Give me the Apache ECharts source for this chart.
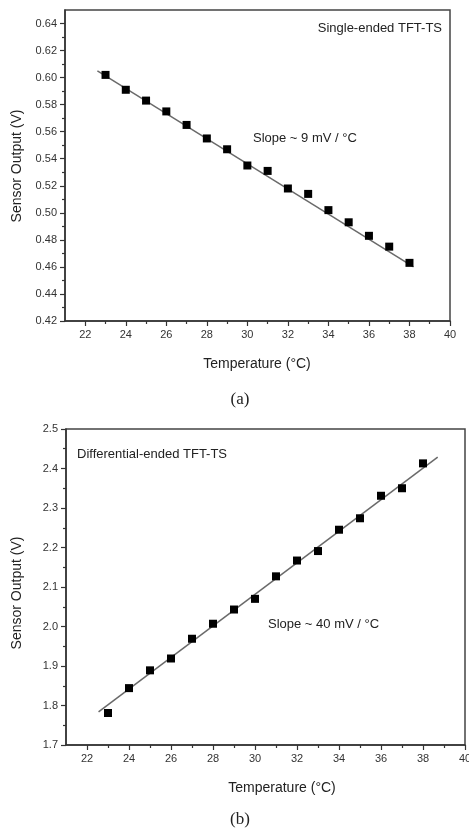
<!DOCTYPE html>
<html>
<head>
<meta charset="utf-8">
<title>TFT-TS sensor output vs temperature</title>
<script src="https://cdn.jsdelivr.net/npm/echarts@6.0.0/dist/echarts.min.js"></script>
<style>
    html, body { margin: 0; padding: 0; background: #fff; }
    #main { width: 469px; height: 832px; }
</style>
</head>
<body>
<div id="main"></div>
<script>
// measured points (temperature in °C, output in V)
var temps = [23, 24, 25, 26, 27, 28, 29, 30, 31, 32, 33, 34, 35, 36, 37, 38];
var singleOut = [0.602, 0.591, 0.583, 0.575, 0.565, 0.555, 0.547, 0.535, 0.531, 0.518, 0.514, 0.502, 0.493, 0.483, 0.475, 0.463];
var diffOut = [1.781, 1.844, 1.889, 1.919, 1.969, 2.007, 2.043, 2.070, 2.127, 2.167, 2.191, 2.245, 2.274, 2.331, 2.350, 2.413];

// end points of the fitted lines
var singleFit = [[22.6, 0.605], [38.2, 0.460]];
var diffFit = [[22.55, 1.784], [38.7, 2.429]];

// tick positions
var xTicks = [22, 24, 26, 28, 30, 32, 34, 36, 38, 40];
var xMinor = [23, 25, 27, 29, 31, 33, 35, 37, 39];
var yTicksA = [0.42, 0.44, 0.46, 0.48, 0.50, 0.52, 0.54, 0.56, 0.58, 0.60, 0.62, 0.64];
var yMinorA = [0.43, 0.45, 0.47, 0.49, 0.51, 0.53, 0.55, 0.57, 0.59, 0.61, 0.63];
var yTicksB = [1.7, 1.8, 1.9, 2.0, 2.1, 2.2, 2.3, 2.4, 2.5];
var yMinorB = [1.75, 1.85, 1.95, 2.05, 2.15, 2.25, 2.35, 2.45];

var FONT = "'Liberation Sans', Arial, sans-serif";
var INK = '#333';

function pairs(xs, ys) {
    var out = [];
    for (var i = 0; i < xs.length; i++) {
        out.push([xs[i], ys[i]]);
    }
    return out;
}

// main axis: line, long ticks, labels
function mainAxis(grid, min, max, ticks, digits) {
    return {
        gridIndex: grid, type: 'value', min: min, max: max,
        axisLine: { show: true, onZero: false, lineStyle: { color: INK, width: 1.5 } },
        axisTick: { show: true, customValues: ticks, length: 5, lineStyle: { color: INK, width: 1.2 } },
        axisLabel: {
            customValues: ticks, fontSize: 11, color: INK, fontFamily: FONT, margin: 8,
            formatter: function(v) { return v.toFixed(digits); }
        },
        splitLine: { show: false }
    };
}

// overlay axis with only the short minor ticks
function minorAxis(grid, min, max, ticks, pos) {
    return {
        gridIndex: grid, type: 'value', min: min, max: max, position: pos,
        axisLine: { show: false, onZero: false },
        axisTick: { show: true, customValues: ticks, length: 3, lineStyle: { color: INK, width: 1.2 } },
        axisLabel: { show: false },
        splitLine: { show: false }
    };
}

function txt(s, x, y, align, size, family, rot) {
    return {
        type: 'text', x: x, y: y, rotation: rot || 0, silent: true,
        style: {
            text: s, fill: '#222', textAlign: align, textVerticalAlign: 'middle',
            font: (size || 13) + 'px ' + (family || FONT)
        }
    };
}

var myChart = echarts.init(document.getElementById('main'));

var option = {
    animation: false,
    backgroundColor: '#fff',
    grid: [
        { left: 65, top: 10, width: 385, height: 311, show: true, borderColor: '#444', borderWidth: 1.5, outerBoundsMode: 'none' },
        { left: 66, top: 429, width: 399, height: 316, show: true, borderColor: '#444', borderWidth: 1.5, outerBoundsMode: 'none' }
    ],
    xAxis: [
        mainAxis(0, 21, 40, xTicks, 0),
        minorAxis(0, 21, 40, xMinor, 'bottom'),
        mainAxis(1, 21, 40, xTicks, 0),
        minorAxis(1, 21, 40, xMinor, 'bottom')
    ],
    yAxis: [
        mainAxis(0, 0.42, 0.65, yTicksA, 2),
        minorAxis(0, 0.42, 0.65, yMinorA, 'left'),
        mainAxis(1, 1.7, 2.5, yTicksB, 1),
        minorAxis(1, 1.7, 2.5, yMinorB, 'left')
    ],
    series: [
        {
            type: 'line', xAxisIndex: 0, yAxisIndex: 0, data: singleFit,
            symbol: 'none', silent: true, lineStyle: { color: '#6a6a6a', width: 1.5 }, z: 2
        },
        {
            type: 'scatter', xAxisIndex: 0, yAxisIndex: 0, data: pairs(temps, singleOut),
            symbol: 'rect', symbolSize: 8, itemStyle: { color: '#000', opacity: 1 }, z: 3
        },
        {
            type: 'line', xAxisIndex: 2, yAxisIndex: 2, data: diffFit,
            symbol: 'none', silent: true, lineStyle: { color: '#6a6a6a', width: 1.5 }, z: 2
        },
        {
            type: 'scatter', xAxisIndex: 2, yAxisIndex: 2, data: pairs(temps, diffOut),
            symbol: 'rect', symbolSize: 8, itemStyle: { color: '#000', opacity: 1 }, z: 3
        }
    ],
    graphic: [
        // panel (a)
        txt('Single-ended TFT-TS', 442, 28, 'right', 13),
        txt('Slope ~ 9 mV / °C', 253, 138, 'left', 13),
        txt('Temperature (°C)', 257, 364, 'center', 14),
        txt('Sensor Output (V)', 17, 166, 'center', 14, null, Math.PI / 2),
        txt('(a)', 240, 400, 'center', 17, "'Liberation Serif', 'Times New Roman', serif"),
        // panel (b)
        txt('Differential-ended TFT-TS', 77, 454, 'left', 13),
        txt('Slope ~ 40 mV / °C', 268, 624, 'left', 13),
        txt('Temperature (°C)', 282, 788, 'center', 14),
        txt('Sensor Output (V)', 17, 593, 'center', 14, null, Math.PI / 2),
        txt('(b)', 240, 820, 'center', 17, "'Liberation Serif', 'Times New Roman', serif")
    ]
};

myChart.setOption(option);
</script>
</body>
</html>
